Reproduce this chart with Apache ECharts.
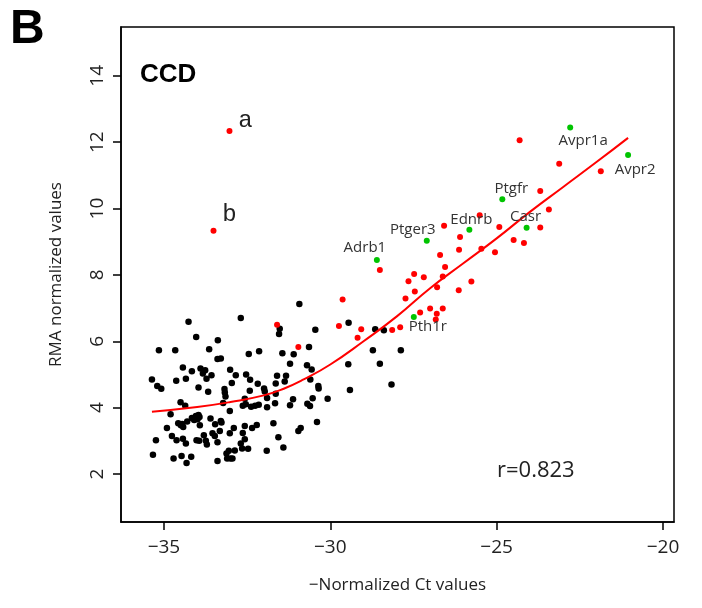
<!DOCTYPE html>
<html>
<head>
<meta charset="utf-8">
<script src="https://cdn.jsdelivr.net/npm/echarts@6/dist/echarts.min.js"></script>
<style>
  html, body { margin: 0; padding: 0; background: #fff; }
  #chart { width: 702px; height: 608px; }
</style>
</head>
<body>
<div id="chart"></div>
<script>
// black points (other genes)
const blackX = [-30.93, -31.52, -31.54, -34.26, -32.69, -30.45, -34.03, -33.38, -35.15, -34.66, -33.64, -32.45, -32.14, -31.44, -31.10, -30.64,
  -33.39, -33.29, -31.21, -34.43, -34.16, -33.90, -33.76, -33.83, -33.57, -33.01, -32.53, -32.84, -31.60, -31.33, -30.70, -30.56,
  -35.36, -34.63, -34.34, -33.72, -32.96, -32.41, -32.18, -31.64, -31.37, -30.60, -35.20, -35.08, -33.96, -33.67, -33.18, -33.17,
  -32.42, -31.99, -31.97, -30.36, -30.35, -33.15, -32.57, -31.90, -31.64, -34.50, -34.36, -33.22, -32.63, -32.54, -32.38, -32.26,
  -32.15, -31.90, -31.66, -31.21, -31.12, -30.69, -30.61, -30.53, -30.08, -34.80, -33.02, -34.16, -34.04, -33.96, -33.93, -34.09,
  -33.99, -34.30, -34.57, -34.49, -34.45, -34.42, -34.91, -33.60, -33.46, -33.29, -33.27, -33.92, -32.90, -32.57, -32.35, -32.21,
  -31.71, -30.96, -30.89, -30.40, -34.76, -35.24, -34.62, -34.43, -34.34, -34.02, -33.94, -33.80, -33.71, -33.74, -33.54, -33.47,
  -33.32, -33.39, -33.02, -32.63, -32.57, -32.69, -32.65, -32.87, -32.47, -31.56, -31.41, -31.91, -33.12, -33.05, -33.00, -32.94,
  -33.10, -33.39, -35.33, -34.71, -34.47, -34.32, -34.18,
  -29.45, -28.65, -28.39, -28.72, -27.88, -28.51, -29.46, -28.16, -29.41];
const blackY = [7.12, 6.38, 6.22, 6.59, 6.70, 6.35, 6.13, 6.03, 5.73, 5.73, 5.76, 5.62, 5.70, 5.64, 5.61, 5.83,
  5.47, 5.48, 5.32, 5.21, 5.10, 5.18, 5.13, 5.03, 4.98, 5.14, 5.00, 4.98, 4.96, 4.96, 5.28, 5.15,
  4.85, 4.81, 4.87, 4.87, 4.74, 4.84, 4.72, 4.73, 4.79, 4.85, 4.65, 4.57, 4.61, 4.48, 4.56, 4.46,
  4.51, 4.58, 4.49, 4.65, 4.58, 4.34, 4.27, 4.29, 4.42, 4.16, 4.06, 4.14, 4.06, 4.10, 4.03, 4.06,
  4.09, 4.01, 4.13, 4.07, 4.25, 4.12, 4.05, 4.28, 4.27, 3.80, 3.90, 3.69, 3.75, 3.78, 3.72, 3.63,
  3.65, 3.58, 3.53, 3.47, 3.51, 3.42, 3.39, 3.67, 3.50, 3.60, 3.55, 3.47, 3.39, 3.45, 3.39, 3.48,
  3.53, 3.30, 3.39, 3.57, 3.15, 3.02, 3.02, 3.06, 2.92, 3.02, 3.00, 3.17, 2.89, 3.00, 3.23, 3.15,
  3.30, 2.96, 3.23, 3.24, 3.05, 2.92, 2.77, 2.71, 2.76, 3.11, 2.80, 2.70, 2.62, 2.70, 2.47, 2.47,
  2.47, 2.39, 2.58, 2.47, 2.54, 2.33, 2.52,
  6.56, 6.36, 6.33, 5.73, 5.73, 5.32, 5.31, 4.70, 4.53];

// red points (GPCRs)
const redX = [-31.60, -30.96, -29.63, -29.74, -29.07, -29.18, -28.14, -27.90, -27.30, -27.00, -26.80, -26.62, -26.83, -27.74,
  -27.46, -27.65, -26.79, -26.14, -24.31, -25.51, -24.92, -26.58, -26.10, -26.13, -25.46, -25.05, -24.49, -24.18, -26.70,
  -28.51, -26.55, -26.62, -27.48, -27.19, -25.76, -23.12, -21.87, -23.69, -23.43, -23.69];
const redY = [6.50, 5.83, 7.26, 6.46, 6.36, 6.11, 6.34, 6.42, 6.87, 6.99, 6.83, 6.99, 6.66, 7.29,
  7.50, 7.81, 7.63, 7.54, 12.06, 9.80, 9.44, 9.48, 9.14, 8.76, 8.79, 8.68, 9.05, 8.96, 8.60,
  8.15, 8.24, 7.95, 8.03, 7.93, 7.80, 11.35, 11.12, 10.53, 9.97, 9.43];

// outliers a and b
const outX = [-33.03, -33.51];
const outY = [12.34, 9.33];
const outNames = ['a', 'b'];

// green labelled genes
const greenNames = ['Avpr1a', 'Avpr2', 'Ptgfr', 'Casr', 'Ednrb', 'Ptger3', 'Adrb1', 'Pth1r'];
const greenX = [-22.79, -21.05, -24.83, -24.10, -25.82, -27.10, -28.60, -27.49];
const greenY = [12.44, 11.61, 10.28, 9.42, 9.36, 9.03, 8.45, 6.73];

// fitted curve
const fitX = [-35.36, -34, -33, -32, -31.4, -30.8, -30, -29, -28, -27, -26, -25, -24, -23, -22, -21.05];
const fitY = [3.88, 4.02, 4.17, 4.37, 4.57, 4.85, 5.30, 6.0, 6.75, 7.6, 8.35, 9.1, 9.9, 10.65, 11.4, 12.13];

const xTicks = [-35, -30, -25, -20];
const yTicks = [2, 4, 6, 8, 10, 12, 14];

const zip = (xs, ys) => xs.map((x, i) => [x, ys[i]]);

// label nudges in pixels, keyed by name
const labelOffset = {
  Avpr1a: [13, 13], Avpr2: [7, 15], Ptgfr: [9, -11], Casr: [-1, -11],
  Ednrb: [2, -10], Ptger3: [-14, -11], Adrb1: [-12, -12], Pth1r: [14, 10],
  a: [16, -10], b: [16, -16]
};
const nudge = (names) => (params) => {
  const o = labelOffset[names[params.dataIndex]];
  return { dx: o[0], dy: o[1], hideOverlap: false };
};

const font = "Open Sans";
const minus = (v) => String(v).replace('-', '\u2212');

const chart = echarts.init(document.getElementById('chart'));

const axisCommon = {
  axisLine: { show: true, onZero: false, lineStyle: { color: '#000', width: 1.5 } },
  axisTick: { show: true, length: 8, lineStyle: { color: '#000', width: 1.5 } },
  splitLine: { show: false },
  nameTextStyle: { fontFamily: font, fontSize: 17, color: '#222' }
};

chart.setOption({
  animation: false,
  backgroundColor: '#fff',
  grid: { left: 121, right: 28, top: 27, bottom: 86, show: true, borderColor: '#000', borderWidth: 1.5 },
  xAxis: {
    ...axisCommon,
    type: 'value',
    min: -36.29,
    max: -19.67,
    name: '\u2212Normalized Ct values',
    nameLocation: 'middle',
    nameGap: 55,
    axisTick: { ...axisCommon.axisTick, customValues: xTicks },
    axisLabel: {
      customValues: xTicks, margin: 16, fontFamily: font, fontSize: 19, color: '#222',
      formatter: minus
    }
  },
  yAxis: {
    ...axisCommon,
    type: 'value',
    min: 0.555,
    max: 15.47,
    name: 'RMA normalized values',
    nameLocation: 'middle',
    nameGap: 56,
    axisTick: { ...axisCommon.axisTick, customValues: yTicks },
    axisLabel: {
      customValues: yTicks, margin: 14, rotate: 90, fontFamily: font, fontSize: 19, color: '#222'
    }
  },
  graphic: [
    { type: 'text', left: 10, top: 6, style: { text: 'B', font: "bold 48px 'Liberation Sans', Arial, sans-serif", fill: '#000' } },
    { type: 'text', left: 140, top: 62, style: { text: 'CCD', font: "bold 26px 'Liberation Sans', Arial, sans-serif", fill: '#000' } },
    { type: 'text', left: 497, top: 460, style: { text: 'r=0.823', font: "22px 'Open Sans', sans-serif", fill: '#222' } }
  ],
  series: [
    {
      type: 'scatter',
      data: zip(blackX, blackY),
      symbolSize: 6.5,
      itemStyle: { color: '#000', opacity: 1 }
    },
    {
      type: 'scatter',
      data: zip(redX, redY),
      symbolSize: 6,
      itemStyle: { color: '#ff0000', opacity: 1 }
    },
    {
      type: 'line',
      data: zip(fitX, fitY),
      smooth: 0.5,
      showSymbol: false,
      lineStyle: { color: '#ff0000', width: 2 },
      z: 3
    },
    {
      type: 'scatter',
      data: outX.map((x, i) => ({ value: [x, outY[i]], name: outNames[i] })),
      symbolSize: 6,
      itemStyle: { color: '#ff0000', opacity: 1 },
      label: {
        show: true, position: 'inside', formatter: '{b}', align: 'center', verticalAlign: 'middle',
        fontFamily: 'Liberation Mono', fontSize: 24, color: '#222'
      },
      labelLayout: nudge(outNames)
    },
    {
      type: 'scatter',
      data: greenX.map((x, i) => ({ value: [x, greenY[i]], name: greenNames[i] })),
      symbolSize: 6,
      itemStyle: { color: '#00c400', opacity: 1 },
      label: {
        show: true, position: 'inside', formatter: '{b}', align: 'center', verticalAlign: 'middle',
        fontFamily: font, fontSize: 15, color: '#333'
      },
      labelLayout: nudge(greenNames),
      z: 4
    }
  ]
});
</script>
</body>
</html>
